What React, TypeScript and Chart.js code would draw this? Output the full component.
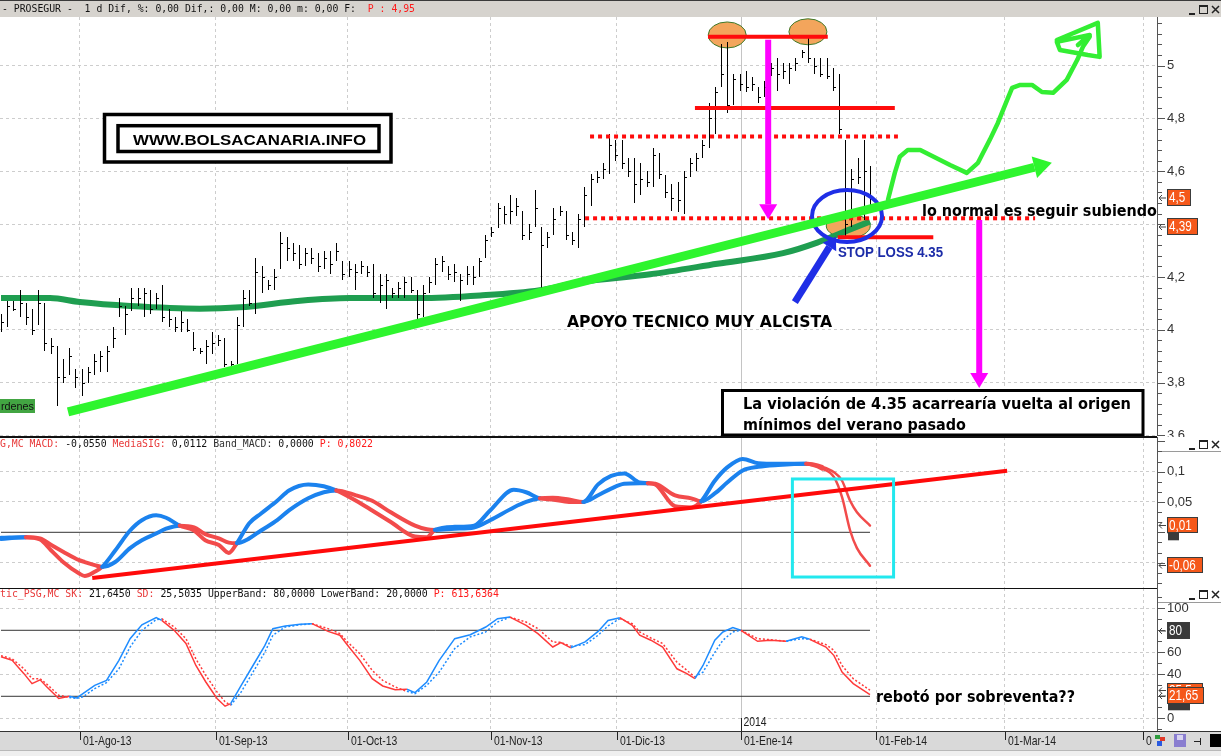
import React, { useEffect, useRef } from "react";
import { Chart, registerables } from "chart.js";

Chart.register(...registerables);

const W = 1221;
const H = 756;
const AXIS_W = 64;
const X_MIN = -0.16;
const X_MAX = 186.24;

// ---------------- DATA ----------------
// x = trading-day index (0 = 15-Jul-2013)
const monthTickIdx = [12.7, 34.6, 55.9, 78.9, 99.2, 119.2, 141, 161.7, 184];
const monthLabels = ["01-Ago-13", "01-Sep-13", "01-Oct-13", "01-Nov-13", "01-Dic-13", "01-Ene-14", "01-Feb-14", "01-Mar-14", "01"];
const yearTickIdx = 119.2;
const yearLabel = "2014";

const priceTicks = [3.6, 3.8, 4, 4.2, 4.4, 4.6, 4.8, 5];
const macdTicks = [-0.05, 0, 0.05, 0.1];
const stochTicks = [0, 20, 40, 60, 80, 100];

const highs = [
  4.06, 4.11, 4.11, 4.15, 4.10, 4.08, 4.15, 4.10, 3.97, 3.94, 3.89, 3.93, 3.85, 3.85, 3.86, 3.91, 3.92, 3.94, 4.01, 4.12,
  4.09, 4.16, 4.16, 4.16, 4.15, 4.14, 4.17, 4.08, 4.05, 4.07, 4.04, 3.99, 3.93, 3.96, 3.99, 3.98, 3.97, 3.88, 4.05, 4.15,
  4.15, 4.27, 4.24, 4.19, 4.23, 4.37, 4.35, 4.33, 4.32, 4.31, 4.31, 4.29, 4.30, 4.30, 4.33, 4.26, 4.26, 4.25, 4.26, 4.24,
  4.25, 4.21, 4.21, 4.16, 4.18, 4.20, 4.20, 4.15, 4.17, 4.20, 4.27, 4.28, 4.24, 4.25, 4.21, 4.24, 4.24, 4.27, 4.36, 4.39,
  4.48, 4.47, 4.51, 4.50, 4.45, 4.40, 4.53, 4.39, 4.37, 4.46, 4.47, 4.45, 4.37, 4.44, 4.54, 4.59, 4.60, 4.63, 4.74, 4.72,
  4.72, 4.65, 4.65, 4.63, 4.60, 4.69, 4.67, 4.585, 4.55, 4.56, 4.60, 4.65, 4.67, 4.72, 4.86, 4.92, 5.08, 5.09, 4.97, 4.97,
  4.98, 4.955, 4.92, 4.94, 5.01, 5.03, 5.01, 5.01, 5.03, 5.06, 5.11, 5.03, 5.03, 5.03, 4.99, 4.97, 4.72, 4.61, 4.65, 4.72,
  4.62,
];
const lows = [
  3.99, 4.01, 4.07, 4.05, 4.02, 3.98, 4.02, 3.92, 3.91, 3.71, 3.80, 3.83, 3.78, 3.75, 3.80, 3.83, 3.84, 3.84, 3.93, 4.05,
  3.98, 4.07, 4.09, 4.05, 4.06, 4.08, 4.03, 4.01, 3.99, 3.99, 3.99, 3.92, 3.91, 3.87, 3.91, 3.94, 3.86, 3.86, 3.87, 4.01,
  4.09, 4.06, 4.14, 4.15, 4.15, 4.23, 4.26, 4.26, 4.23, 4.24, 4.25, 4.22, 4.23, 4.21, 4.26, 4.19, 4.20, 4.15, 4.21, 4.20,
  4.12, 4.10, 4.08, 4.12, 4.12, 4.12, 4.14, 4.04, 4.05, 4.14, 4.17, 4.22, 4.19, 4.18, 4.11, 4.17, 4.17, 4.20, 4.27, 4.35,
  4.385, 4.40, 4.40, 4.43, 4.34, 4.34, 4.39, 4.16, 4.31, 4.36, 4.43, 4.34, 4.32, 4.31, 4.39, 4.47, 4.555, 4.57, 4.59, 4.64,
  4.61, 4.58, 4.48, 4.51, 4.54, 4.54, 4.57, 4.50, 4.45, 4.445, 4.44, 4.58, 4.60, 4.65, 4.69, 4.74, 4.92, 4.82, 4.85, 4.905,
  4.90, 4.905, 4.86, 4.88, 4.96, 4.905, 4.95, 4.93, 4.98, 5.03, 5.01, 4.97, 4.955, 4.95, 4.905, 4.74, 4.35, 4.39, 4.55, 4.415,
  4.46,
];
const closes = [
  4.03, 4.09, 4.08, 4.10, 4.05, 4.00, 4.10, 3.95, 3.94, 3.82, 3.82, 3.90, 3.82, 3.80, 3.84, 3.88, 3.90, 3.92, 3.97, 4.09,
  4.06, 4.12, 4.12, 4.14, 4.08, 4.12, 4.05, 4.04, 4.01, 4.03, 4.00, 3.93, 3.92, 3.94, 3.95, 3.96, 3.87, 3.87, 4.02, 4.12,
  4.10, 4.22, 4.20, 4.17, 4.20, 4.33, 4.31, 4.29, 4.25, 4.29, 4.27, 4.24, 4.27, 4.25, 4.30, 4.21, 4.23, 4.22, 4.24, 4.22,
  4.14, 4.17, 4.19, 4.14, 4.16, 4.18, 4.15, 4.06, 4.14, 4.18, 4.25, 4.26, 4.21, 4.22, 4.19, 4.21, 4.20, 4.26, 4.34, 4.37,
  4.46, 4.44, 4.45, 4.47, 4.36, 4.37, 4.46, 4.32, 4.35, 4.42, 4.45, 4.36, 4.34, 4.42, 4.51, 4.57, 4.58, 4.61, 4.70, 4.66,
  4.63, 4.60, 4.55, 4.57, 4.56, 4.66, 4.59, 4.52, 4.50, 4.49, 4.58, 4.63, 4.65, 4.70, 4.80, 4.90, 4.97, 4.85, 4.95, 4.93,
  4.92, 4.93, 4.88, 4.92, 4.99, 4.97, 4.98, 4.99, 5.01, 5.05, 5.03, 5.00, 4.97, 4.96, 4.92, 4.76, 4.40, 4.57, 4.58, 4.60,
  4.50,
];

const maIdx = [0, 7.9, 12.7, 20.8, 32, 38.5, 48.2, 56.2, 67.5, 77.2, 86.8, 93.3, 104.6, 115.4, 126, 131.5, 136.8, 140];
const maVal = [4.12, 4.12, 4.105, 4.09, 4.08, 4.085, 4.11, 4.12, 4.12, 4.13, 4.15, 4.18, 4.21, 4.25, 4.29, 4.33, 4.38, 4.41];

const macdIdx = [0, 4, 6.3, 8.1, 10, 12.6, 13.5, 15.1, 16.3, 18.4, 20.8, 22.7, 25, 26.6, 28.8, 31.1, 32.9, 35.1, 36.7, 38,
  40, 41.9, 44.5, 46.4, 49.5, 52, 54, 57.2, 59.8, 62.8, 66.7, 68.6, 69.9, 73.1, 76.2, 78.8, 82.6, 84.6, 86.8, 88.9,
  91.5, 93.8, 96.2, 98.3, 100.4, 102.9, 104.2, 105.4, 108.6, 111.2, 112.8, 115, 117, 119.5, 122, 125.2, 129.7, 132.3, 134.2, 135.5,
  136.8, 137.9, 140];
const macdVal = [-0.009, -0.008, -0.012, -0.030, -0.049, -0.068, -0.072, -0.065, -0.057, -0.030, 0.003, 0.020, 0.028, 0.024, 0.011, 0.003, -0.013, -0.021, -0.034, -0.018,
  0.015, 0.031, 0.052, 0.069, 0.079, 0.076, 0.069, 0.052, 0.036, 0.017, -0.007, -0.008, 0.004, 0.009, 0.011, 0.036, 0.070, 0.066, 0.056, 0.054,
  0.050, 0.050, 0.079, 0.093, 0.097, 0.082, 0.081, 0.079, 0.043, 0.041, 0.051, 0.085, 0.107, 0.121, 0.114, 0.113, 0.113, 0.105, 0.091, 0.058,
  0.003, -0.026, -0.055];
const signalVal = [-0.011, -0.008, -0.010, -0.021, -0.032, -0.046, -0.049, -0.054, -0.057, -0.049, -0.026, -0.013, -0.002, 0.006, 0.011, 0.008, -0.003, -0.010, -0.017, -0.018,
  -0.010, 0.003, 0.020, 0.036, 0.056, 0.066, 0.069, 0.061, 0.052, 0.033, 0.011, 0.005, 0.004, 0.006, 0.008, 0.020, 0.041, 0.050, 0.056, 0.057,
  0.054, 0.050, 0.061, 0.072, 0.080, 0.081, 0.081, 0.080, 0.061, 0.056, 0.051, 0.064, 0.082, 0.102, 0.108, 0.111, 0.113, 0.108, 0.099, 0.085,
  0.052, 0.033, 0.0112];
const bandMacdIdx = [0, 140];
const bandMacdVal = [0, 0];

const stochIdx = [0, 1.8, 3.7, 5, 6.3, 7.4, 9.3, 11, 12.2, 13.2, 15.1, 17, 19, 20.8, 22.7, 25, 25.9, 27.9, 29.8, 31.4,
  33, 34.8, 36.1, 37, 38.7, 40.6, 42.5, 43.8, 45.8, 48.2, 50.1, 52.7, 54.6, 55.9, 57.8, 59.8, 61.5, 63.5, 65.4, 66.7,
  68.6, 70.6, 73.1, 75.6, 78.1, 80, 82, 84.6, 86.5, 88.9, 90.2, 91.8, 94.1, 96.2, 97.8, 99.7, 101.7, 102.9, 104.7, 106.6,
  108.9, 110.5, 111.8, 113.1, 115, 116.3, 117.9, 119.2, 121.9, 123.9, 126.5, 129, 130.3, 132.9, 134.2, 135.5, 137.3, 140];
const skVal = [56, 52.7, 40.6, 31.5, 35, 28.5, 18, 20, 18.5, 22.4, 30, 34.5, 52.7, 72.4, 85, 91.5, 89, 80, 68, 48,
  33, 18, 11, 13.4, 30, 48, 66, 81.5, 84, 85.5, 86, 79, 75.5, 66, 52.7, 36, 29.4, 26, 26.4, 23.3,
  33, 52.7, 72.4, 76, 83, 90.6, 92, 84.5, 77, 64.8, 68.8, 64, 69.4, 79, 89, 91.5, 84.5, 75.5, 71, 64.8,
  45, 40.6, 36, 48, 71, 78.5, 82.4, 80, 70, 71, 70, 74, 71.8, 64.8, 57, 42, 31.5, 21.6];
const sdVal = [57, 54, 45, 36, 36, 31, 21, 19, 18, 19.5, 27, 32.4, 45, 64.8, 80, 89.7, 90.5, 83, 72.4, 54,
  39, 24, 15, 11.8, 24, 42, 60, 75.5, 83, 85, 86, 81.5, 77, 69, 58.8, 43.6, 34.5, 28.5, 24.5, 22.4,
  30, 42, 63.4, 74, 78.5, 87.5, 92, 87.5, 81.5, 69.4, 69, 65.5, 67, 75.5, 84, 90.6, 86, 78.5, 73, 68,
  51, 43.6, 37.5, 42, 60, 71, 78.5, 80, 72.4, 71.5, 70, 72.4, 72, 67, 61.8, 48, 36, 25.5];
const upperBandIdx = [0, 140];
const upperBandVal = [80, 80];
const lowerBandIdx = [0, 140];
const lowerBandVal = [20, 20];

// annotation geometry in data units (trading-day index, value)
const supportTrend = [10.8, 3.689, 169.3, 4.632];
const forecastPath = [[142.9, 4.492], [144.0, 4.594], [144.8, 4.655], [146.1, 4.681], [148.1, 4.681], [149.7, 4.662], [152.9, 4.624],
  [155.6, 4.594], [157.4, 4.632], [159.3, 4.719], [160.6, 4.783], [162.1, 4.870], [162.9, 4.916], [164.2, 4.927], [166.1, 4.927],
  [167.7, 4.900], [169.5, 4.897], [171.7, 4.946], [173.4, 5.022], [174.3, 5.071], [175.4, 5.109]];
const forecastHead = [[170.1, 5.097], [176.7, 5.162], [177.0, 5.033], [175.1, 5.040], [170.6, 5.059], [170.1, 5.090], [175.4, 5.116], [173.5, 5.078]];
const solidLevels = [[5.109, 113.9, 133.2], [4.840, 111.8, 144.0], [4.350, 134.8, 150.2]];
const dottedLevels = [[4.732, 94.9, 144.5], [4.422, 94.1, 166.6]];
const topMarks = [[117.0, 5.116, 19, 13], [130.0, 5.128, 19, 13], [136.5, 4.393, 22, 12]];
const focusCircle = [136.3, 4.431, 35, 26];
const targetArrows = [[123.6, 5.098, 4.418], [157.6, 4.416, 3.78]];
const supportArrow = [127.9, 4.105, 134.5, 4.352];
const macdTrend = [14.7, -0.0753, 162.1, 0.1015];
const macdBox = [127.5, 0.0879, 143.8, -0.0737];

// ---------------- STYLE ----------------
const GRID = "#cdcdcd";
const MACD_UP = "#1b82ee";
const MACD_DN = "#f24b4b";
const ST_UP = "#1e8cff";
const ST_DN = "#ff3a3a";
const MONO = '"DejaVu Sans Mono", monospace';
const LAB = '"Liberation Sans", Arial, sans-serif';
const BOLD_TXT = 'bold 15px "DejaVu Sans", Verdana, sans-serif';

function fitText(ctx: any, text: string, x: number, y: number, width: number, font: string, color: string) {
  ctx.save();
  ctx.font = font;
  ctx.fillStyle = color;
  ctx.textBaseline = "middle";
  ctx.textAlign = "left";
  const w = ctx.measureText(text).width || 1;
  ctx.translate(x, y);
  ctx.scale(width / w, 1);
  ctx.fillText(text, 0, 0);
  ctx.restore();
}
function scaledText(ctx: any, text: string, x: number, y: number, font: string, color: string, sx: number) {
  ctx.save();
  ctx.font = font;
  ctx.fillStyle = color;
  ctx.textBaseline = "middle";
  ctx.textAlign = "left";
  ctx.translate(x, y);
  ctx.scale(sx, 1);
  ctx.fillText(text, 0, 0);
  ctx.restore();
}
function monoSegments(ctx: any, segs: [string, string][], x0: number, x1: number, y: number) {
  const total = segs.reduce((a, s) => a + s[0].length, 0);
  const cw = (x1 - x0) / total;
  let pos = 0;
  for (const [t, c] of segs) {
    fitText(ctx, t, x0 + pos * cw, y, t.length * cw, "11px " + MONO, c);
    pos += t.length;
  }
}
function arrow(ctx: any, x1: number, y1: number, x2: number, y2: number, color: string, width: number, headLen: number, headW: number) {
  const a = Math.atan2(y2 - y1, x2 - x1);
  const bx = x2 - headLen * Math.cos(a);
  const by = y2 - headLen * Math.sin(a);
  ctx.save();
  ctx.strokeStyle = color;
  ctx.fillStyle = color;
  ctx.lineWidth = width;
  ctx.lineCap = "butt";
  ctx.beginPath();
  ctx.moveTo(x1, y1);
  ctx.lineTo(bx, by);
  ctx.stroke();
  ctx.beginPath();
  ctx.moveTo(x2, y2);
  ctx.lineTo(bx + headW * Math.sin(a), by - headW * Math.cos(a));
  ctx.lineTo(bx - headW * Math.sin(a), by + headW * Math.cos(a));
  ctx.closePath();
  ctx.fill();
  ctx.restore();
}
function badge(ctx: any, x: number, yc: number, w: number, h: number, text: string, bg: string) {
  const y = Math.round(yc - h / 2);
  ctx.save();
  ctx.fillStyle = bg;
  ctx.fillRect(x, y, w, h);
  ctx.strokeStyle = "#3c3c3c";
  ctx.lineWidth = 1;
  ctx.strokeRect(x + 0.5, y + 0.5, w - 1, h - 1);
  ctx.restore();
  scaledText(ctx, text, x + 2, y + h / 2 + 0.5, "15px " + LAB, "#ffffff", 0.78);
  ctx.save();
  ctx.strokeStyle = "#444";
  ctx.lineWidth = 1;
  ctx.beginPath();
  ctx.moveTo(x - 1, y + h / 2 + 0.5);
  ctx.lineTo(x - 8, y + h / 2 + 0.5);
  ctx.moveTo(x - 8, y + h / 2 + 0.5);
  ctx.lineTo(x - 5, y + h / 2 - 2.5);
  ctx.moveTo(x - 8, y + h / 2 + 0.5);
  ctx.lineTo(x - 5, y + h / 2 + 3.5);
  ctx.stroke();
  ctx.restore();
}
function winButtons(ctx: any, y: number) {
  ctx.save();
  ctx.strokeStyle = "#222";
  ctx.fillStyle = "#222";
  ctx.lineWidth = 1;
  ctx.fillRect(1189, y + 4, 6, 2);
  ctx.strokeRect(1199.5, y - 3.5, 8, 8);
  ctx.fillRect(1199, y - 4, 9, 2);
  ctx.beginPath();
  ctx.lineWidth = 1.5;
  ctx.moveTo(1212, y - 3);
  ctx.lineTo(1219, y + 4);
  ctx.moveTo(1219, y - 3);
  ctx.lineTo(1212, y + 4);
  ctx.stroke();
  ctx.restore();
}
function axisFrame(chart: any, minorStep: number, majorStep: number, lo: number, hi: number) {
  const { ctx, chartArea } = chart;
  const ys = chart.scales.y;
  const xr = chartArea.right;
  ctx.save();
  ctx.strokeStyle = "#555";
  ctx.lineWidth = 1;
  ctx.beginPath();
  ctx.moveTo(xr + 0.5, chartArea.top);
  ctx.lineTo(xr + 0.5, chartArea.bottom);
  ctx.stroke();
  const n = Math.round((hi - lo) / minorStep);
  ctx.beginPath();
  for (let i = 0; i <= n; i++) {
    const v = lo + i * minorStep;
    const y = Math.round(ys.getPixelForValue(v)) + 0.5;
    if (y < chartArea.top || y > chartArea.bottom) continue;
    const r = v / majorStep;
    const major = Math.abs(r - Math.round(r)) < 1e-6;
    ctx.moveTo(xr, y);
    ctx.lineTo(xr + (major ? 8 : 5), y);
  }
  ctx.stroke();
  ctx.restore();
}
function yearLine(chart: any) {
  const { ctx, chartArea } = chart;
  const x = Math.round(chart.scales.x.getPixelForValue(yearTickIdx)) + 0.5;
  ctx.save();
  ctx.strokeStyle = "#c4c4c4";
  ctx.lineWidth = 1;
  ctx.beginPath();
  ctx.moveTo(x, chartArea.top);
  ctx.lineTo(x, chartArea.bottom);
  ctx.stroke();
  ctx.restore();
}

const xScale = () => ({
  type: "linear",
  min: X_MIN,
  max: X_MAX,
  afterBuildTicks: (s: any) => {
    s.ticks = monthTickIdx.map((v) => ({ value: v }));
  },
  afterFit: (s: any) => {
    s.height = 0;
    s.paddingLeft = 0;
    s.paddingRight = 0;
    s.paddingTop = 0;
    s.paddingBottom = 0;
  },
  ticks: { display: false },
  grid: { color: (c: any) => (c.tick && c.tick.value === yearTickIdx ? "rgba(0,0,0,0)" : GRID), drawTicks: false },
  border: { display: false, dash: [3, 3] },
});
const yScale = (min: number, max: number, ticks: number[], fmt: (v: number) => string, hideGrid: number[]) => ({
  position: "right",
  min,
  max,
  afterBuildTicks: (s: any) => {
    s.ticks = ticks.map((v) => ({ value: v }));
  },
  afterFit: (s: any) => {
    s.width = AXIS_W;
    s.paddingTop = 0;
    s.paddingBottom = 0;
    s.paddingLeft = 0;
    s.paddingRight = 0;
  },
  ticks: { callback: (v: any) => fmt(Number(v)), padding: 10, color: "#333", font: { family: LAB, size: 13 }, autoSkip: false },
  grid: { color: (c: any) => (c.tick && hideGrid.indexOf(c.tick.value) >= 0 ? "rgba(0,0,0,0)" : GRID), drawTicks: false },
  border: { display: false, dash: [3, 3] },
});
const commaFmt = (v: number) => String(Number(v.toFixed(3))).replace(".", ",");

const segColor = (a: number[], b: number[], up: string, dn: string) => (c: any) => {
  const d = a[c.p0DataIndex] - b[c.p0DataIndex] + (a[c.p1DataIndex] - b[c.p1DataIndex]);
  return d >= 0 ? up : dn;
};
const pts = (xs: number[], ys: number[]) => xs.map((x, i) => ({ x, y: ys[i] }));

// ---------------- PRICE PANEL ----------------
const pricePlugin = {
  id: "priceDeco",
  beforeDatasetsDraw(chart: any) {
    const { ctx } = chart;
    const X = (v: number) => chart.scales.x.getPixelForValue(v);
    const Y = (v: number) => chart.scales.y.getPixelForValue(v);
    yearLine(chart);
    ctx.save();
    for (const [mx, my, rx, ry] of topMarks) {
      ctx.beginPath();
      ctx.ellipse(X(mx), Y(my), rx, ry, 0, 0, Math.PI * 2);
      ctx.fillStyle = "#f3a55c";
      ctx.fill();
      ctx.strokeStyle = "#3d7a2c";
      ctx.lineWidth = 1;
      ctx.stroke();
    }
    ctx.restore();
  },
  afterDatasetsDraw(chart: any) {
    const { ctx } = chart;
    const X = (v: number) => chart.scales.x.getPixelForValue(v);
    const Y = (v: number) => chart.scales.y.getPixelForValue(v);
    // OHLC bars
    ctx.save();
    ctx.strokeStyle = "#000";
    ctx.lineWidth = 1;
    ctx.beginPath();
    highs.forEach((h, i) => {
      const x = Math.round(X(i)) + 0.5;
      ctx.moveTo(x, Math.round(Y(h)));
      ctx.lineTo(x, Math.round(Y(lows[i])));
      const yc = Math.round(Y(closes[i])) + 0.5;
      ctx.moveTo(x, yc);
      ctx.lineTo(x + 2.5, yc);
    });
    ctx.stroke();
    ctx.restore();

    ctx.save();
    ctx.strokeStyle = "#ff0c0c";
    ctx.lineWidth = 4;
    for (const [lv, a, b] of solidLevels) {
      ctx.beginPath();
      ctx.moveTo(X(a), Y(lv));
      ctx.lineTo(X(b), Y(lv));
      ctx.stroke();
    }
    ctx.setLineDash([4, 4]);
    for (const [lv, a, b] of dottedLevels) {
      ctx.beginPath();
      ctx.moveTo(X(a), Y(lv));
      ctx.lineTo(X(b), Y(lv));
      ctx.stroke();
    }
    ctx.setLineDash([]);
    ctx.restore();

    ctx.save();
    ctx.strokeStyle = "#1f2ee6";
    ctx.lineWidth = 4;
    ctx.beginPath();
    ctx.ellipse(X(focusCircle[0]), Y(focusCircle[1]), focusCircle[2], focusCircle[3], 0, 0, Math.PI * 2);
    ctx.stroke();
    ctx.restore();

    arrow(ctx, X(supportTrend[0]), Y(supportTrend[1]), X(supportTrend[2]), Y(supportTrend[3]), "#2ef52e", 9, 18, 11);

    ctx.save();
    ctx.strokeStyle = "#33ee33";
    ctx.lineWidth = 4.5;
    ctx.lineJoin = "round";
    ctx.lineCap = "round";
    ctx.beginPath();
    forecastPath.forEach(([a, b], i) => (i === 0 ? ctx.moveTo(X(a), Y(b)) : ctx.lineTo(X(a), Y(b))));
    ctx.stroke();
    ctx.beginPath();
    forecastHead.forEach(([a, b], i) => (i === 0 ? ctx.moveTo(X(a), Y(b)) : ctx.lineTo(X(a), Y(b))));
    ctx.stroke();
    ctx.restore();

    for (const [ax, a, b] of targetArrows) {
      arrow(ctx, X(ax), Y(a), X(ax), Y(b), "#ff00ff", 6, 15, 9);
    }
    arrow(ctx, X(supportArrow[0]), Y(supportArrow[1]), X(supportArrow[2]), Y(supportArrow[3]), "#1f2ee6", 7, 12, 8);

    ctx.save();
    ctx.fillStyle = "#fff";
    ctx.fillRect(105, 116, 285, 45);
    ctx.strokeStyle = "#000";
    ctx.lineWidth = 3.5;
    ctx.strokeRect(104.5, 114.5, 286.5, 47.5);
    ctx.strokeRect(118, 125.7, 261, 25.8);
    ctx.restore();
    fitText(ctx, "WWW.BOLSACANARIA.INFO", 133, 141, 233, "bold 14px " + LAB, "#000");

    fitText(ctx, "lo normal es seguir subiendo", 922, 212, 235, BOLD_TXT, "#000");
    fitText(ctx, "STOP LOSS 4.35", 838, 253, 105, "bold 14px " + LAB, "#1c2ca8");
    fitText(ctx, "APOYO TECNICO MUY ALCISTA", 567, 323, 265, BOLD_TXT, "#000");

    ctx.save();
    ctx.fillStyle = "#fff";
    ctx.fillRect(722, 390, 421, 45);
    ctx.strokeStyle = "#000";
    ctx.lineWidth = 3;
    ctx.strokeRect(722.5, 390.5, 420.5, 44.5);
    ctx.restore();
    fitText(ctx, "La violación de 4.35 acarrearía vuelta al origen", 743, 405, 388, BOLD_TXT, "#000");
    fitText(ctx, "mínimos del verano pasado", 743, 426, 223, BOLD_TXT, "#000");

    ctx.save();
    ctx.fillStyle = "#42a542";
    ctx.fillRect(0, 399, 35, 14);
    ctx.restore();
    fitText(ctx, "rdenes", 1, 406.5, 33, "11px " + LAB, "#111");
  },
  afterDraw(chart: any) {
    const { ctx, chartArea } = chart;
    ctx.save();
    ctx.fillStyle = "#d6d3ce";
    ctx.fillRect(0, 0, W, 17);
    ctx.fillStyle = "#3a3a3a";
    ctx.fillRect(0, 0, W, 1);
    ctx.restore();
    monoSegments(ctx, [["- PROSEGUR -  1 d Dif, %: 0,00 Dif,: 0,00 M: 0,00 m: 0,00 F:  ", "#111"], ["P : 4,95", "#ff1a1a"]], 2, 415, 9);
    winButtons(ctx, 9);
    axisFrame(chart, 0.04, 0.2, 3.6, 5.16);
    const Y = (v: number) => chart.scales.y.getPixelForValue(v);
    badge(ctx, 1167, Y(closes[closes.length - 1]), 24, 17, "4,5", "#f5581a");
    badge(ctx, 1167, Y(4.39), 31, 17, "4,39", "#f5581a");
    ctx.save();
    ctx.fillStyle = "#111";
    ctx.fillRect(0, chartArea.bottom, chartArea.right, 1);
    ctx.restore();
  },
};

// ---------------- MACD PANEL ----------------
const macdPlugin = {
  id: "macdDeco",
  beforeDatasetsDraw(chart: any) {
    yearLine(chart);
  },
  afterDatasetsDraw(chart: any) {
    const { ctx } = chart;
    const X = (v: number) => chart.scales.x.getPixelForValue(v);
    const Y = (v: number) => chart.scales.y.getPixelForValue(v);
    ctx.save();
    ctx.strokeStyle = "#ff0a0a";
    ctx.lineWidth = 4;
    ctx.beginPath();
    ctx.moveTo(X(macdTrend[0]), Y(macdTrend[1]));
    ctx.lineTo(X(macdTrend[2]), Y(macdTrend[3]));
    ctx.stroke();
    ctx.strokeStyle = "#22e8ee";
    ctx.lineWidth = 3;
    const x0 = X(macdBox[0]);
    const y0 = Y(macdBox[1]);
    ctx.strokeRect(x0, y0, X(macdBox[2]) - x0, Y(macdBox[3]) - y0);
    ctx.restore();
  },
  afterDraw(chart: any) {
    const { ctx, chartArea } = chart;
    ctx.save();
    ctx.fillStyle = "#111";
    ctx.fillRect(0, 0, chartArea.right, 1);
    ctx.fillStyle = "#fff";
    ctx.fillRect(chartArea.right + 1, 0, AXIS_W, 14);
    ctx.fillStyle = "#9a9a9a";
    ctx.fillRect(chartArea.right, 14, AXIS_W, 1);
    ctx.restore();
    monoSegments(ctx, [["G,MC MACD: ", "#e83a3a"], ["-0,0550 ", "#111"], ["MediaSIG: ", "#e83a3a"], ["0,0112 ", "#111"], ["Band_MACD: ", "#333"], ["0,0000 ", "#111"], ["P: 0,8022", "#ff1a1a"]], 0, 373, 7);
    winButtons(ctx, 7);
    axisFrame(chart, 0.05 / 3, 0.05, -0.1, 0.16);
    const Y = (v: number) => chart.scales.y.getPixelForValue(v);
    ctx.save();
    ctx.fillStyle = "#3a3a3a";
    ctx.fillRect(1168, Y(0) - 2, 11, 10);
    ctx.restore();
    badge(ctx, 1167, Y(signalVal[signalVal.length - 1]) - 1, 31, 16, "0,01", "#f5581a");
    badge(ctx, 1167, Y(macdVal[macdVal.length - 1]) - 1, 36, 16, "-0,06", "#f5581a");
  },
};

// ---------------- STOCHASTIC PANEL ----------------
const stochPlugin = {
  id: "stochDeco",
  beforeDatasetsDraw(chart: any) {
    yearLine(chart);
  },
  afterDraw(chart: any) {
    const { ctx, chartArea } = chart;
    const X = (v: number) => chart.scales.x.getPixelForValue(v);
    const Y = (v: number) => chart.scales.y.getPixelForValue(v);
    ctx.save();
    ctx.fillStyle = "#111";
    ctx.fillRect(0, 0, chartArea.right, 1);
    ctx.fillStyle = "#fff";
    ctx.fillRect(chartArea.right + 1, 0, AXIS_W, 14);
    ctx.fillStyle = "#9a9a9a";
    ctx.fillRect(chartArea.right, 14, AXIS_W, 1);
    ctx.restore();
    monoSegments(ctx, [["tic_PSG,MC SK: ", "#e83a3a"], ["21,6450 ", "#111"], ["SD: ", "#e83a3a"], ["25,5035 UpperBand: 80,0000 LowerBand: 20,0000 ", "#111"], ["P: 613,6364", "#ff1a1a"]], 0, 499, 6);
    winButtons(ctx, 6);
    axisFrame(chart, 10, 20, -10, 110);

    badge(ctx, 1167, Y(sdVal[sdVal.length - 1]), 36, 14, "25,5", "#f5581a");
    ctx.save();
    ctx.fillStyle = "#3a3a3a";
    ctx.fillRect(1168, Y(20) + 2, 22, 12);
    ctx.restore();
    badge(ctx, 1167, Y(80), 23, 17, "80", "#3a3a3a");
    badge(ctx, 1167, Y(skVal[skVal.length - 1]) + 1, 37, 17, "21,65", "#f5581a");

    fitText(ctx, "rebotó por sobreventa??", 876, 110, 199, BOLD_TXT, "#000");

    const xy = Math.round(X(yearTickIdx)) + 0.5;
    ctx.save();
    ctx.strokeStyle = "#222";
    ctx.lineWidth = 1;
    ctx.beginPath();
    ctx.moveTo(xy, chartArea.bottom - 13);
    ctx.lineTo(xy, chartArea.bottom);
    ctx.stroke();
    ctx.restore();
    scaledText(ctx, yearLabel, xy + 2, chartArea.bottom - 9, "13px " + LAB, "#222", 0.8);

    const b = chartArea.bottom;
    ctx.save();
    ctx.fillStyle = "#d9d9d9";
    ctx.fillRect(0, b, W, 19);
    ctx.fillStyle = "#333";
    ctx.fillRect(0, b, W, 1);
    ctx.fillStyle = "#efefef";
    ctx.fillRect(0, b + 19, W, 10);
    ctx.fillStyle = "#b8b8b8";
    ctx.fillRect(0, b + 19, W, 1);
    ctx.strokeStyle = "#222";
    ctx.lineWidth = 1;
    ctx.beginPath();
    monthTickIdx.forEach((m) => {
      const x = Math.round(X(m)) + 0.5;
      ctx.moveTo(x, b + 1);
      ctx.lineTo(x, b + 9);
    });
    ctx.stroke();
    ctx.restore();
    monthTickIdx.forEach((m, i) => {
      scaledText(ctx, monthLabels[i], Math.round(X(m)) + 3, b + 10.5, "13px " + LAB, "#222", 0.8);
    });
    ctx.save();
    ctx.fillStyle = "#d9d9d9";
    ctx.fillRect(1152, b + 1, 69, 18);
    ctx.fillStyle = "#2c9a3c";
    ctx.fillRect(1155, b + 4, 5, 4);
    ctx.fillStyle = "#e23a2a";
    ctx.fillRect(1160, b + 6, 5, 4);
    ctx.fillStyle = "#2a5ae0";
    ctx.fillRect(1157, b + 10, 5, 5);
    ctx.fillStyle = "#8a7ed0";
    ctx.fillRect(1174, b + 3, 12, 13);
    ctx.fillStyle = "#d8d4f0";
    ctx.fillRect(1177, b + 4, 6, 5);
    ctx.strokeStyle = "#222";
    ctx.beginPath();
    ctx.moveTo(1194, b + 10.5);
    ctx.lineTo(1200, b + 10.5);
    ctx.moveTo(1200.5, b + 7);
    ctx.lineTo(1200.5, b + 14);
    ctx.stroke();
    ctx.fillStyle = "#000";
    ctx.fillRect(1210, b + 3, 11, 13);
    ctx.restore();
  },
};

function baseOptions(padding: any, y: any) {
  return {
    animation: false,
    responsive: false,
    maintainAspectRatio: false,
    events: [],
    layout: { padding },
    plugins: { legend: { display: false }, tooltip: { enabled: false } },
    scales: { x: xScale(), y },
  };
}

export default function App() {
  const priceRef = useRef<HTMLCanvasElement>(null);
  const macdRef = useRef<HTMLCanvasElement>(null);
  const stochRef = useRef<HTMLCanvasElement>(null);

  useEffect(() => {
    const price = new Chart(priceRef.current as any, {
      type: "line",
      data: {
        datasets: [
          {
            data: pts(maIdx, maVal),
            borderColor: "#1f9e50",
            borderWidth: 6,
            pointRadius: 0,
            cubicInterpolationMode: "monotone",
          },
        ],
      },
      options: baseOptions({ top: 17, bottom: 1, left: 0, right: 0 }, yScale(3.598, 5.184, priceTicks, commaFmt, [])) as any,
      plugins: [pricePlugin],
    } as any);

    const macd = new Chart(macdRef.current as any, {
      type: "line",
      data: {
        datasets: [
          {
            data: pts(macdIdx, macdVal),
            borderWidth: 4,
            pointRadius: 0,
            borderJoinStyle: "round",
            borderCapStyle: "round",
            cubicInterpolationMode: "monotone",
            borderColor: MACD_UP,
            segment: {
              borderColor: segColor(macdVal, signalVal, MACD_UP, MACD_DN),
              borderWidth: (c: any) => (c.p0.parsed.x >= 131 ? 2.5 : 4),
            },
          },
          {
            data: pts(macdIdx, signalVal),
            borderWidth: 4,
            pointRadius: 0,
            borderJoinStyle: "round",
            borderCapStyle: "round",
            cubicInterpolationMode: "monotone",
            borderColor: MACD_UP,
            segment: {
              borderColor: segColor(macdVal, signalVal, MACD_UP, MACD_DN),
              borderWidth: (c: any) => (c.p0.parsed.x >= 131 ? 2.5 : 4),
            },
          },
          { data: pts(bandMacdIdx, bandMacdVal), borderColor: "#333", borderWidth: 1, pointRadius: 0 },
        ],
      },
      options: baseOptions({ top: 0, bottom: 0, left: 0, right: 0 }, yScale(-0.0918, 0.1571, macdTicks, commaFmt, [0])) as any,
      plugins: [macdPlugin],
    } as any);

    const stoch = new Chart(stochRef.current as any, {
      type: "line",
      data: {
        datasets: [
          {
            data: pts(stochIdx, skVal),
            borderWidth: 1.5,
            pointRadius: 0,
            borderColor: ST_DN,
            segment: { borderColor: segColor(skVal, sdVal, ST_UP, ST_DN) },
          },
          {
            data: pts(stochIdx, sdVal),
            borderWidth: 1.5,
            pointRadius: 0,
            borderDash: [2, 2],
            borderColor: ST_DN,
            segment: { borderColor: segColor(skVal, sdVal, ST_UP, ST_DN) },
          },
          { data: pts(upperBandIdx, upperBandVal), borderColor: "#333", borderWidth: 1, pointRadius: 0 },
          { data: pts(lowerBandIdx, lowerBandVal), borderColor: "#333", borderWidth: 1, pointRadius: 0 },
        ],
      },
      options: baseOptions({ top: 0, bottom: 25, left: 0, right: 0 }, yScale(-11.55, 118.45, stochTicks, (v) => String(v), [80, 20])) as any,
      plugins: [stochPlugin],
    } as any);

    return () => {
      price.destroy();
      macd.destroy();
      stoch.destroy();
    };
  }, []);

  return (
    <div style={{ position: "absolute", left: 0, top: 0, width: W, height: H, background: "#fff", overflow: "hidden" }}>
      <canvas ref={priceRef} width={W} height={437} style={{ position: "absolute", left: 0, top: 0 }} />
      <canvas ref={macdRef} width={W} height={151} style={{ position: "absolute", left: 0, top: 437 }} />
      <canvas ref={stochRef} width={W} height={168} style={{ position: "absolute", left: 0, top: 588 }} />
    </div>
  );
}
